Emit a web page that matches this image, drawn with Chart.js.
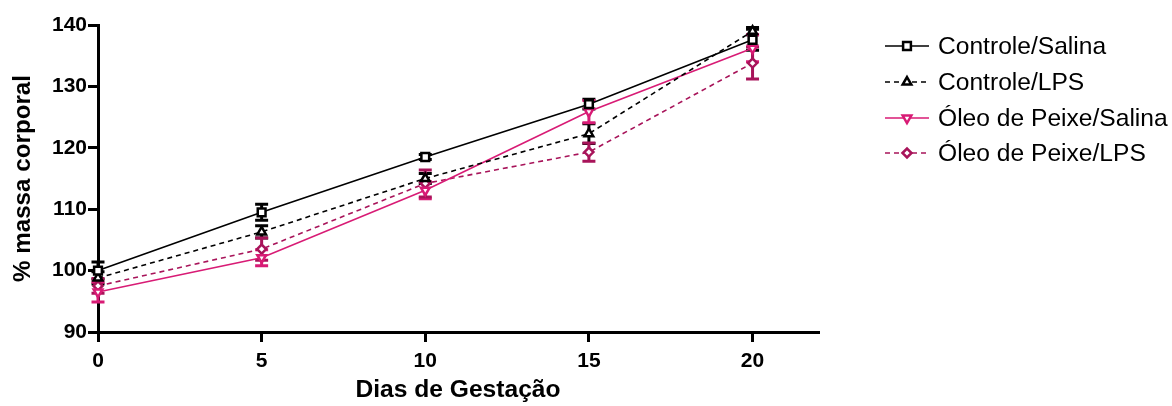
<!DOCTYPE html>
<html>
<head>
<meta charset="utf-8">
<script src="https://cdn.jsdelivr.net/npm/chart.js@4.4.0/dist/chart.umd.min.js"></script>
<style>
  html, body { margin: 0; padding: 0; background: #fff; }
  #wrap { width: 1172px; height: 406px; position: relative; }
</style>
</head>
<body>
<div id="wrap"><canvas id="c"></canvas></div>
<script>
// Gestation days and axis ticks
const days = [0, 5, 10, 15, 20];
const xTicks = [0, 5, 10, 15, 20];
const yTicks = [90, 100, 110, 120, 130, 140];

// Series names
const seriesNames = ['Controle/Salina', 'Controle/LPS', 'Óleo de Peixe/Salina', 'Óleo de Peixe/LPS'];

// Mean % body mass per group
const controleSalina = [100.0, 109.5, 118.5, 127.1, 137.6];
const controleLPS    = [98.8, 106.3, 115.0, 122.3, 139.0];
const oleoSalina     = [96.5, 102.1, 113.1, 125.9, 136.2];
const oleoLPS        = [97.5, 103.5, 114.2, 119.3, 133.8];

// Standard errors per group
const controleSalinaErr = [1.4, 1.3, 0.4, 0.8, 1.7];
const controleLPSErr    = [1.0, 1.0, 0.8, 1.6, 0.6];
const oleoSalinaErr     = [1.6, 1.3, 1.4, 1.8, 2.2];
const oleoLPSErr        = [1.2, 1.8, 2.2, 1.5, 2.6];

const FONT = "'Liberation Sans', Arial, Helvetica, sans-serif";
const PINK = '#d81b75';
const PINK_DARK = '#a8145a';

function series(label, values, errors, color, dash, style, rotation, radius) {
  return {
    label,
    data: days.map((d, i) => ({ x: d, y: values[i] })),
    errors,
    borderColor: color,
    backgroundColor: '#fff',
    borderWidth: 1.6,
    borderDash: dash,
    pointStyle: style,
    pointRotation: rotation,
    pointRadius: radius,
    pointHoverRadius: radius,
    pointBorderColor: color,
    pointBackgroundColor: '#fff',
    pointBorderWidth: 2.5,
    tension: 0,
    fill: false,
    clip: false
  };
}

// Vertical error bars with caps, drawn under the markers
const errorBars = {
  id: 'errorBars',
  beforeDatasetsDraw(chart) {
    const { ctx, scales: { x, y } } = chart;
    ctx.save();
    chart.data.datasets.forEach(ds => {
      ctx.strokeStyle = ds.borderColor;
      ctx.lineWidth = 3;
      ds.data.forEach((p, i) => {
        const e = ds.errors[i];
        const px = x.getPixelForValue(p.x);
        const top = y.getPixelForValue(p.y + e);
        const bot = y.getPixelForValue(p.y - e);
        ctx.beginPath();
        ctx.moveTo(px, top); ctx.lineTo(px, bot);
        ctx.moveTo(px - 6.5, top); ctx.lineTo(px + 6.5, top);
        ctx.moveTo(px - 6.5, bot); ctx.lineTo(px + 6.5, bot);
        ctx.stroke();
      });
    });
    ctx.restore();
  }
};

// Legend at the right: line sample with marker, then the name
const sideLegend = {
  id: 'sideLegend',
  afterDraw(chart) {
    const { ctx } = chart;
    const rows = [46, 82, 118, 153];
    ctx.save();
    chart.data.datasets.forEach((ds, i) => {
      const yy = rows[i];
      ctx.strokeStyle = ds.borderColor;
      ctx.lineWidth = 1.6;
      ctx.setLineDash(ds.borderDash || []);
      ctx.beginPath();
      ctx.moveTo(885, yy); ctx.lineTo(929, yy);
      ctx.stroke();
      ctx.setLineDash([]);
      ctx.fillStyle = '#fff';
      ctx.lineWidth = 2.5;
      ctx.strokeStyle = ds.borderColor;
      Chart.helpers.drawPoint(ctx, {
        pointStyle: ds.pointStyle,
        rotation: ds.pointRotation,
        radius: ds.pointRadius,
        borderWidth: 2.5
      }, 907, yy);
      ctx.fillStyle = '#000';
      ctx.font = '24.6px ' + FONT;
      ctx.textBaseline = 'middle';
      ctx.textAlign = 'left';
      ctx.fillText(seriesNames[i], 938, yy + 1);
    });
    ctx.restore();
  }
};

new Chart(document.getElementById('c'), {
  type: 'line',
  data: {
    datasets: [
      series(seriesNames[0], controleSalina, controleSalinaErr, '#000', [], 'rect', 0, 5.5),
      series(seriesNames[1], controleLPS, controleLPSErr, '#000', [5, 4], 'triangle', 0, 5),
      series(seriesNames[2], oleoSalina, oleoSalinaErr, PINK, [], 'triangle', 180, 5),
      series(seriesNames[3], oleoLPS, oleoLPSErr, PINK_DARK, [5, 4], 'rectRot', 0, 4.5)
    ]
  },
  options: {
    responsive: true,
    maintainAspectRatio: false,
    animation: false,
    events: [],
    layout: { padding: { left: 0, top: 25, right: 354, bottom: 0 } },
    plugins: { legend: { display: false }, tooltip: { enabled: false } },
    scales: {
      x: {
        type: 'linear',
        min: 0,
        max: 22,
        afterFit(scale) { scale.height = 74; },
        afterBuildTicks(scale) { scale.ticks = xTicks.map(v => ({ value: v })); },
        grid: { display: true, drawOnChartArea: false, drawTicks: true, tickLength: 10, lineWidth: 3, color: '#000' },
        border: { display: true, width: 3, color: '#000' },
        ticks: { color: '#000', padding: 7, font: { family: FONT, size: 21, weight: 'bold' } },
        title: { display: true, text: 'Dias de Gestação', color: '#000', padding: { top: 0, bottom: 1 },
                 font: { family: FONT, size: 24.6, weight: 'bold' } }
      },
      y: {
        type: 'linear',
        min: 90,
        max: 140,
        afterFit(scale) { scale.width = 98; },
        afterBuildTicks(scale) { scale.ticks = yTicks.map(v => ({ value: v })); },
        grid: { display: true, drawOnChartArea: false, drawTicks: true, tickLength: 10, lineWidth: 3, color: '#000' },
        border: { display: true, width: 3, color: '#000' },
        ticks: { color: '#000', padding: 1, font: { family: FONT, size: 21, weight: 'bold' } },
        title: { display: true, text: '% massa corporal', color: '#000', padding: { top: 9, bottom: 0 },
                 font: { family: FONT, size: 24.2, weight: 'bold' } }
      }
    }
  },
  plugins: [errorBars, sideLegend]
});
</script>
</body>
</html>
